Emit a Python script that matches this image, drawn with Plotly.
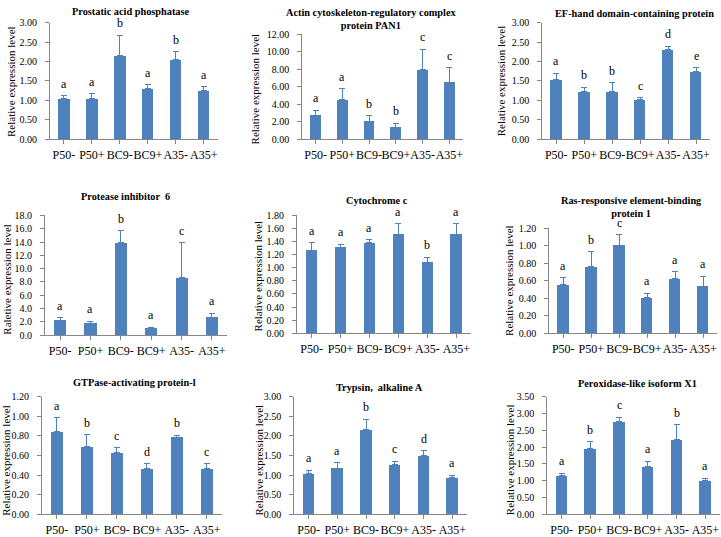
import plotly.graph_objects as go

W, H = 721, 537

categories = ["P50-", "P50+", "BC9-", "BC9+", "A35-", "A35+"]

titles = [
    "Prostatic acid phosphatase",
    "Actin cytoskeleton-regulatory complex<br>protein PAN1",
    "EF-hand domain-containing protein",
    "Protease inhibitor  6",
    "Cytochrome c",
    "Ras-responsive element-binding<br>protein 1",
    "GTPase-activating protein-l",
    "Trypsin,  alkaline A",
    "Peroxidase-like isoform X1",
]

ytitles = [
    "Relative expression level", "Relative expression level", "Relative expression level",
    "Raletive expression level", "Relative expression level", "Relative expression level",
    "Relative expression level", "Relative expression level", "Relative expression level",
]

vals_acid_phosphatase = [1.05, 1.05, 2.15, 1.30, 2.05, 1.25]
err_acid_phosphatase = [0.07, 0.12, 0.53, 0.10, 0.20, 0.10]
let_acid_phosphatase = ["a", "a", "b", "a", "b", "a"]

vals_pan1 = [2.72, 4.52, 2.08, 1.41, 7.93, 6.54]
err_pan1 = [0.60, 1.28, 0.63, 0.42, 2.33, 1.66]
let_pan1 = ["a", "a", "b", "b", "c", "c"]

vals_ef_hand = [1.53, 1.23, 1.24, 1.03, 2.31, 1.74]
err_ef_hand = [0.17, 0.11, 0.21, 0.04, 0.08, 0.10]
let_ef_hand = ["a", "b", "b", "c", "d", "e"]

vals_protease = [2.15, 1.78, 13.86, 0.97, 8.60, 2.67]
err_protease = [0.45, 0.32, 1.84, 0.23, 5.26, 0.59]
let_protease = ["a", "a", "b", "a", "c", "a"]

vals_cytochrome = [1.26, 1.31, 1.38, 1.51, 1.08, 1.51]
err_cytochrome = [0.12, 0.05, 0.05, 0.16, 0.08, 0.16]
let_cytochrome = ["a", "a", "a", "a", "b", "a"]

vals_ras = [0.554, 0.76, 1.004, 0.406, 0.62, 0.535]
err_ras = [0.08, 0.167, 0.122, 0.048, 0.08, 0.115]
let_ras = ["a", "b", "c", "a", "a", "a"]

vals_gtpase = [0.84, 0.696, 0.63, 0.465, 0.788, 0.465]
err_gtpase = [0.146, 0.114, 0.05, 0.049, 0.02, 0.049]
let_gtpase = ["a", "b", "c", "d", "b", "c"]

vals_trypsin = [1.047, 1.18, 2.17, 1.28, 1.50, 0.94]
err_trypsin = [0.083, 0.13, 0.25, 0.07, 0.12, 0.06]
let_trypsin = ["a", "a", "b", "c", "d", "a"]

vals_peroxidase = [1.15, 1.956, 2.75, 1.41, 2.23, 1.00]
err_peroxidase = [0.07, 0.20, 0.13, 0.17, 0.43, 0.07]
let_peroxidase = ["a", "b", "c", "a", "b", "a"]

y_max = [3.0, 12.0, 3.0, 18.0, 1.8, 1.2, 1.2, 3.0, 3.5]
y_step = [0.5, 2.0, 0.5, 2.0, 0.2, 0.2, 0.2, 0.5, 0.5]
y_fmt = [".2f", ".2f", ".2f", ".1f", ".2f", ".2f", ".2f", ".2f", ".2f"]

series = [
    (vals_acid_phosphatase, err_acid_phosphatase, let_acid_phosphatase),
    (vals_pan1, err_pan1, let_pan1),
    (vals_ef_hand, err_ef_hand, let_ef_hand),
    (vals_protease, err_protease, let_protease),
    (vals_cytochrome, err_cytochrome, let_cytochrome),
    (vals_ras, err_ras, let_ras),
    (vals_gtpase, err_gtpase, let_gtpase),
    (vals_trypsin, err_trypsin, let_trypsin),
    (vals_peroxidase, err_peroxidase, let_peroxidase),
]

# layout (pixels): plot left, category width, y of top tick, y of zero
geom = [
    (50, 28.0, 17, 137), (302.6, 26.8, 29, 137), (543, 28.0, 17, 137),
    (45, 30.4, 215, 338), (297.5, 29.0, 215, 336), (550, 28.0, 228, 336),
    (42, 30.0, 401, 522), (294.6, 28.8, 401, 522), (548, 28.8, 401, 522),
]
title_pos = [(131, 6), (372, 13), (635, 8), (126, 196), (378, 200), (632, 206),
             (135, 387), (380, 392), (638, 388)]
ytitle_pos = [(11, 77), (255, 85), (502, 77), (7, 280), (258, 277), (509, 282),
              (6, 466), (259, 466), (511, 466)]

SERIF = "Liberation Serif, Times New Roman, serif"
BLUE = "#4F81BD"
AX = "#868686"

fig = go.Figure()
annotations = []
for i, ((v, e, lt), (left, cw, ytop, ybot)) in enumerate(zip(series, geom)):
    n = i + 1
    xa = "x" if n == 1 else f"x{n}"
    ya = "y" if n == 1 else f"y{n}"
    fig.add_trace(go.Bar(
        x=list(range(len(categories))), y=v, xaxis=xa, yaxis=ya,
        marker=dict(color=BLUE, line=dict(width=0)), width=0.4,
        error_y=dict(type="data", array=e, symmetric=False,
                     arrayminus=[0] * len(e), color=BLUE, thickness=1, width=3),
        showlegend=False, hoverinfo="skip",
    ))
    right = min(left + 6 * cw, W)
    xr = [-0.5, -0.5 + (right - left) / cw]
    key = "" if n == 1 else str(n)
    fig.layout["xaxis" + key] = dict(
        domain=[left / W, right / W], range=xr, anchor=ya,
        tickmode="array", tickvals=list(range(6)), ticktext=categories,
        tickangle=0,
        showline=True, linecolor=AX, linewidth=1,
        ticks="outside", tickson="boundaries", ticklen=4, tickcolor=AX,
        tickfont=dict(family=SERIF, size=12, color="#000"),
        showgrid=False, zeroline=False, fixedrange=True,
    )
    fig.layout["yaxis" + key] = dict(
        domain=[1 - ybot / H, 1 - ytop / H], range=[0, y_max[i]], anchor=xa,
        tick0=0, dtick=y_step[i], tickformat=y_fmt[i],
        showline=True, linecolor=AX, linewidth=1,
        ticks="outside", ticklen=4, tickcolor=AX, ticklabelstandoff=6,
        tickfont=dict(family=SERIF, size=10, color="#000"),
        showgrid=False, zeroline=False, fixedrange=True,
    )
    for j, lab in enumerate(lt):
        annotations.append(dict(
            x=j, y=v[j] + e[j], xref=xa, yref=ya, text=lab, showarrow=False,
            yanchor="bottom", yshift=3,
            font=dict(family=SERIF, size=12, color="#000"),
        ))
    tx, ty = title_pos[i]
    annotations.append(dict(
        x=tx / W, y=1 - ty / H, xref="paper", yref="paper", text="<b>" + titles[i] + "</b>",
        showarrow=False, xanchor="center", yanchor="middle",
        font=dict(family=SERIF, size=10.3, color="#000"),
    ))
    yx, yy = ytitle_pos[i]
    annotations.append(dict(
        x=yx / W, y=1 - yy / H, xref="paper", yref="paper", text=ytitles[i],
        textangle=-90, showarrow=False, xanchor="center", yanchor="middle",
        font=dict(family=SERIF, size=11, color="#000"),
    ))

fig.update_layout(
    width=W, height=H, margin=dict(l=0, r=0, t=0, b=0),
    paper_bgcolor="white", plot_bgcolor="white",
    annotations=annotations, bargap=0,
)

fig.write_html(
    "out.html",
    config={"displayModeBar": False},
    post_script="document.body.style.margin='0px';document.body.style.overflow='hidden';",
)
